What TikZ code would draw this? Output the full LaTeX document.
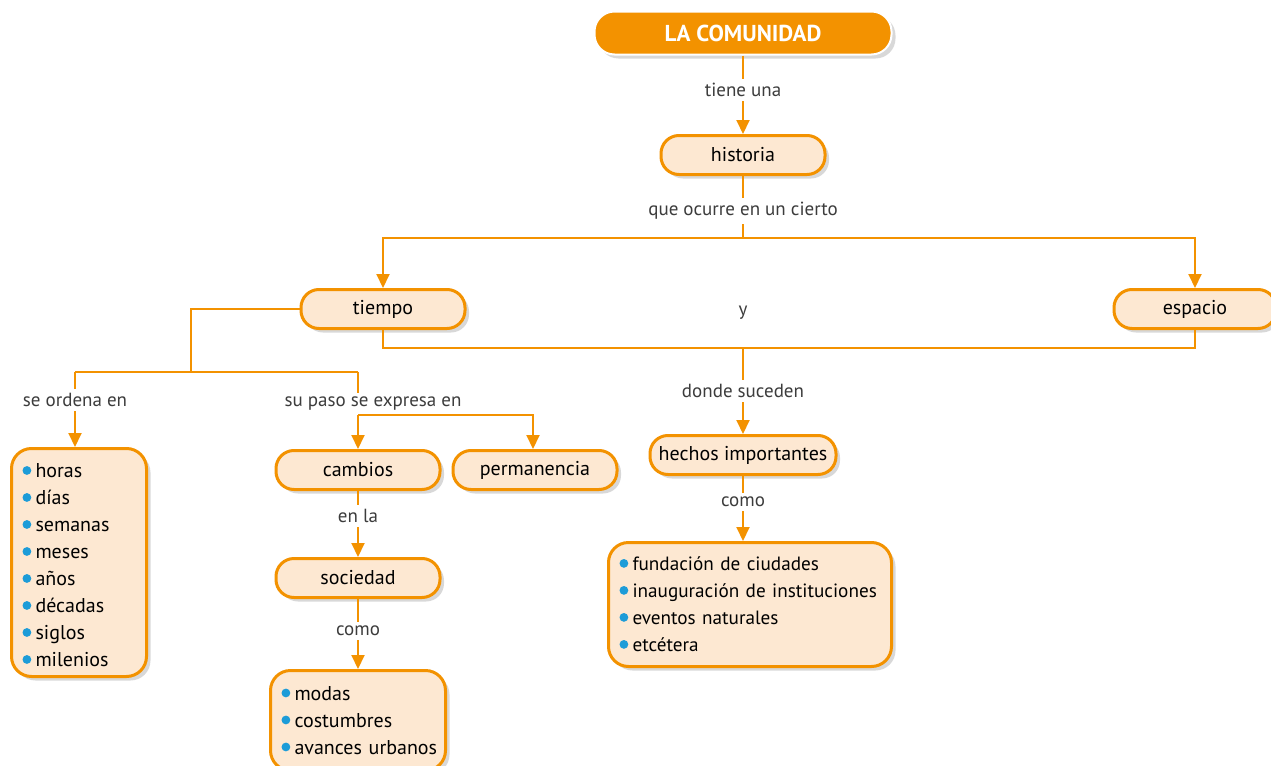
\documentclass[tikz,border=0pt]{standalone}
\usepackage{fontspec}
\setmainfont{PT Sans}
\usetikzlibrary{arrows.meta,shadows}
\definecolor{org}{HTML}{F39200}
\definecolor{peach}{HTML}{FDE8D2}
\definecolor{dotblue}{HTML}{1D9CD8}
\definecolor{lblgray}{HTML}{3C3C3C}
\newcommand{\itm}[1]{\mbox{\makebox[6.5pt][l]{\tikz[baseline=-3.7pt]\fill[dotblue] (0,0) circle (2.2pt);}#1}}
\begin{document}
\begin{tikzpicture}[x=0.5pt,y=-0.5pt,
  con/.style={draw=org, line width=1pt},
  arr/.style={con, -{Triangle[length=7pt,width=6.5pt]}},
  shad/.style={drop shadow={shadow xshift=2pt,shadow yshift=-2pt,opacity=0.3}},
  pill/.style={shad, draw=org, line width=1.5pt, fill=peach, rounded corners=9pt, minimum width=82pt, minimum height=19.5pt, inner sep=0pt, font=\fontsize{10}{12}\selectfont},
  lbl/.style={text=lblgray, font=\fontsize{9.5}{11}\selectfont, inner sep=2pt},
  listbox/.style={shad, draw=org, line width=1.5pt, fill=peach, rounded corners=10pt, anchor=north west, align=left, font=\fontsize{10}{13.5}\selectfont, inner xsep=5.5pt, inner ysep=0pt},
  topbox/.style={shad, fill=org, draw=white, line width=1pt, rounded corners=10pt, minimum width=148.5pt, minimum height=21.5pt, text=white, font=\bfseries\fontsize{11.5}{13}\selectfont}
]
\path[fill=white, use as bounding box] (0,0) rectangle (1271,766);

\node[topbox] (com) at (743,33) {LA COMUNIDAD};
\node[lbl] (l1) at (743,90) {tiene una};
\node[pill] (his) at (743,155) {historia};
\node[lbl] (l2) at (743,211) {que ocurre en un cierto};
\node[pill] (tie) at (383,309) {tiempo};
\node[pill, minimum width=81pt] (esp) at (1195,309) {espacio};
\node[lbl] (y) at (743,313) {y};
\node[lbl] (l5) at (743,391) {donde suceden};
\node[pill, minimum width=93pt] (hec) at (743,455) {hechos importantes};
\node[lbl] (l6) at (743,502) {como};
\node[listbox, text width=130.5pt, minimum height=62pt, font=\fontsize{9.6}{13.5}\selectfont] (fun) at (607,541)
  {\itm{fundación de ciudades}\\ \itm{inauguración de instituciones}\\ \itm{eventos naturales}\\ \itm{etcétera}};
\node[lbl] (l3) at (75,400) {se ordena en};
\node[lbl] (l4) at (373,404) {su paso se expresa en};
\node[listbox, text width=56.5pt, minimum height=114pt] (hor) at (10,447)
  {\rule{0pt}{10pt}\itm{horas}\\ \itm{días}\\ \itm{semanas}\\ \itm{meses}\\ \itm{años}\\ \itm{décadas}\\ \itm{siglos}\\ \itm{milenios}};
\node[pill] (cam) at (358,470) {cambios};
\node[pill] (per) at (535,470) {permanencia};
\node[lbl] (l7) at (358,516) {en la};
\node[pill] (soc) at (358,578) {sociedad};
\node[lbl] (l8) at (358,631) {como};
\node[listbox, text width=76.5pt, minimum height=50pt] (mod) at (269,669)
  {\itm{modas}\\ \itm{costumbres}\\ \itm{avances urbanos}};

\coordinate (j1) at (743,238);
\coordinate (jb) at (743,348);
\coordinate (t1) at (191,372);
\coordinate (ta) at (75,372);
\coordinate (tb) at (358,372);
\coordinate (s1) at (358,415);
\coordinate (s2) at (533,415);

\draw[con] (com) -- (l1);
\draw[arr] (l1) -- (his);
\draw[con] (his) -- (l2);
\draw[con] (l2) -- (j1);
\draw[arr] (j1) -| (tie);
\draw[arr] (j1) -| (esp);
\draw[con] (tie) |- (jb) -| (esp);
\draw[con] (jb) -- (l5);
\draw[arr] (l5) -- (hec);
\draw[con] (hec) -- (l6);
\draw[arr] (l6) -- (l6 |- fun.north);
\draw[con] (tie) -| (t1);
\draw[con] (ta) -- (tb);
\draw[con] (ta) -- (l3);
\draw[arr] (l3) -- (l3 |- hor.north);
\draw[con] (tb) -- (tb |- l4.north);
\draw[arr] (s1) -- (s1 |- cam.north);
\draw[arr] (s1) -- (s2) -- (s2 |- per.north);
\draw[con] (cam) -- (l7);
\draw[arr] (l7) -- (soc);
\draw[con] (soc) -- (l8);
\draw[arr] (l8) -- (l8 |- mod.north);
\end{tikzpicture}
\end{document}
